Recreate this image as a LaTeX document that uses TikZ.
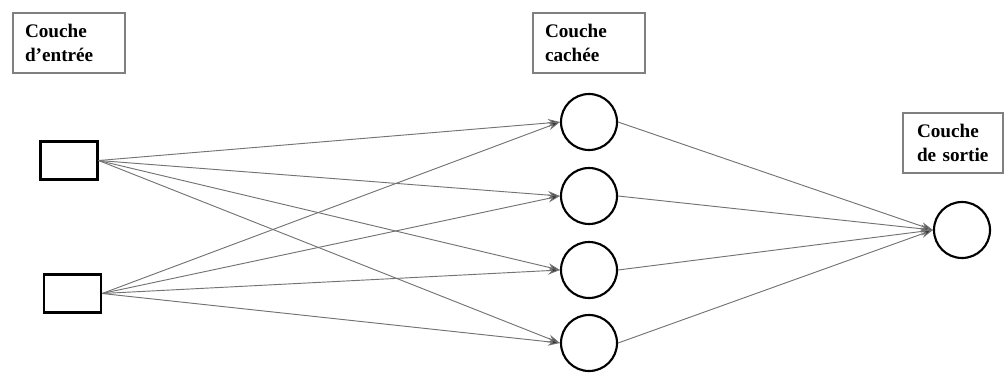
\documentclass[tikz,border=0pt]{standalone}
\usepackage{fontspec}
\setmainfont{Liberation Serif}
\usetikzlibrary{arrows.meta}
\begin{document}
\begin{tikzpicture}[x=0.75pt,y=-0.75pt,
  labelbox/.style={draw=black!50, line width=1.2pt, minimum height=45pt, inner xsep=9pt, align=left,
    font=\fontsize{14.4}{18.5}\selectfont\bfseries},
  inbox/.style={draw=black, line width=1.6pt, minimum width=42.75pt, minimum height=28.5pt, inner sep=0pt},
  neuron/.style={draw=black, line width=1.6pt, circle, minimum size=42pt, inner sep=0pt},
  conn/.style={draw=black!55, line width=0.7pt, -{Stealth[length=9pt,width=6pt,fill=black!80]}}
]
\useasboundingbox (0,0) rectangle (1005,372);
\node[labelbox, text width=66pt] (lab1) at (69,43) {Couche\\d’entrée};
\node[labelbox, text width=66pt] (lab2) at (589,43) {Couche\\cachée};
\node[labelbox, text width=54pt, inner xsep=10.5pt] (lab3) at (953,143) {Couche\\de sortie};

\node[inbox] (in1) at (69,160.5) {};
\node[inbox] (in2) at (72.5,293.5) {};

\node[neuron] (h1) at (589,122) {};
\node[neuron] (h2) at (589,196) {};
\node[neuron] (h3) at (589,270) {};
\node[neuron] (h4) at (589,343) {};

\node[neuron] (out) at (962,230) {};

\foreach \i in {in1,in2}{
  \foreach \h in {h1,h2,h3,h4}{
    \draw[conn] (\i.east) -- (\h.west);
  }
}
\foreach \h in {h1,h2,h3,h4}{
  \draw[conn] (\h.east) -- (out.west);
}
\end{tikzpicture}
\end{document}
